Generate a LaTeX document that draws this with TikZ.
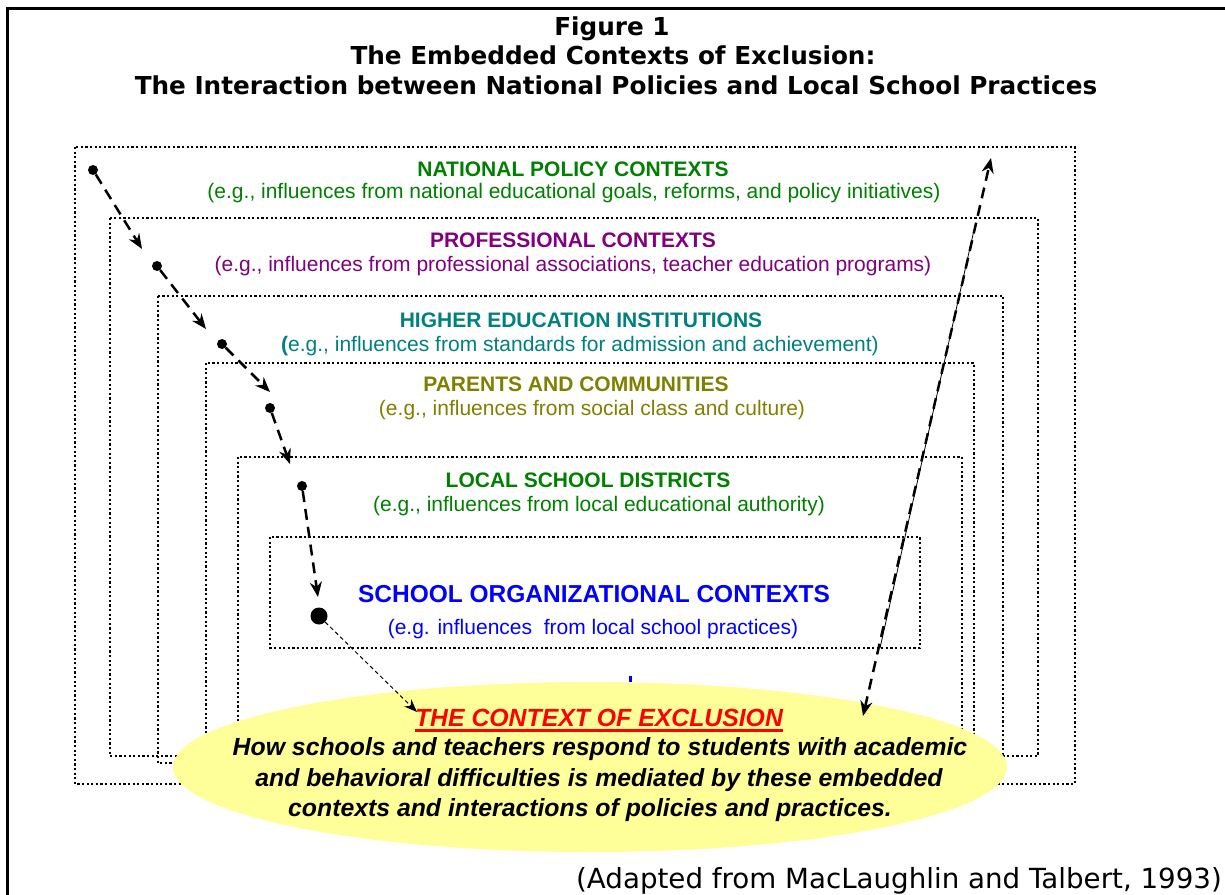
\documentclass[tikz,border=0pt]{standalone}
\usepackage{fontspec}
\setmainfont{Liberation Sans}
\newfontfamily\titlefont{DejaVu Sans}
\usetikzlibrary{arrows.meta,shapes.geometric}
\definecolor{natgreen}{RGB}{0,128,0}
\definecolor{profpurple}{RGB}{128,0,128}
\definecolor{hiteal}{RGB}{0,128,128}
\definecolor{parolive}{RGB}{128,128,0}
\definecolor{exyellow}{RGB}{255,255,153}
\tikzset{
  dotbox/.style={line width=2.2pt, dash pattern=on 2.2pt off 2.4pt},
  headtxt/.style={anchor=base, inner sep=0pt, font=\fontsize{21}{25}\selectfont\bfseries},
  subtxt/.style={anchor=base, inner sep=0pt, font=\fontsize{21}{25}\selectfont},
  titletxt/.style={anchor=base, inner sep=0pt, font=\titlefont\fontsize{24.7}{29}\selectfont\bfseries},
  dotnode/.style={circle, fill=black, minimum size=10pt, inner sep=0pt},
  dasharrow/.style={line width=2.5pt, dash pattern=on 11pt off 7pt, -{Stealth[length=15pt,width=12pt]}},
  thinarrow/.style={line width=1pt, dash pattern=on 4pt off 3pt, -{Stealth[length=13pt,width=10pt]}},
  ellbody/.style={anchor=base, inner sep=0pt, font=\fontsize{24.8}{28}\selectfont\bfseries\itshape}
}
\begin{document}
\begin{tikzpicture}[x=1pt,y=-1pt]
\useasboundingbox (0,0) rectangle (1225,894);
\fill[white] (0,0) rectangle (1225,894);
% frame
\draw[line width=3pt] (7,900) -- (7,8) -- (1240,8);
% titles
\node[titletxt] (t1) at (612,35) {Figure 1};
\node[titletxt] (t2) at (613,64) {The Embedded Contexts of Exclusion:};
\node[titletxt] (t3) at (616,94) {The Interaction between National Policies and Local School Practices};
% nested boxes
\draw[dotbox] (75,147) rectangle (1075,784);
\draw[dotbox] (110,218) rectangle (1038,756);
\draw[dotbox] (158,296) rectangle (1003,763);
\draw[dotbox] (206,363) rectangle (974,770);
\draw[dotbox] (238,457) rectangle (962,770);
\draw[dotbox] (270,537) rectangle (920,648);
% box texts
\node[headtxt, text=natgreen] (nh) at (573,176) {NATIONAL POLICY CONTEXTS};
\node[subtxt, text=natgreen] (ns) at (574,198) {(e.g., influences from national educational goals, reforms, and policy initiatives)};
\node[headtxt, text=profpurple] (ph) at (573,247) {PROFESSIONAL CONTEXTS};
\node[subtxt, text=profpurple] (ps) at (573,271) {(e.g., influences from professional associations, teacher education programs)};
\node[headtxt, text=hiteal] (hh) at (581,327) {HIGHER EDUCATION INSTITUTIONS};
\node[subtxt, text=hiteal] (hs) at (580,351) {\textbf{(}e.g., influences from standards for admission and achievement)};
\node[headtxt, text=parolive] (pah) at (576,391) {PARENTS AND COMMUNITIES};
\node[subtxt, text=parolive] (pas) at (592,415) {(e.g., influences from social class and culture)};
\node[headtxt, text=natgreen] (lh) at (588,487) {LOCAL SCHOOL DISTRICTS};
\node[subtxt, text=natgreen] (ls) at (599,511) {(e.g., influences from local educational authority)};
\node[anchor=base, inner sep=0pt, text=blue, font=\fontsize{24.5}{28}\selectfont\bfseries] (sh) at (594,602) {SCHOOL ORGANIZATIONAL CONTEXTS};
\node[subtxt, text=blue] (ss) at (593,634) {(e.g. influences\ \ from local school practices)};
% blue mark
\fill[blue] (629,676) rectangle (632,682);
% ellipse
\node[ellipse, fill=exyellow, minimum width=834pt, minimum height=170pt, inner sep=0pt] (ctx) at (590,767) {};
% ellipse texts
\node[ellbody, text=red] (eh) at (599,726) {THE CONTEXT OF EXCLUSION};
\draw[red, line width=3pt] ([yshift=-4.5pt]eh.base west) -- ([yshift=-4.5pt]eh.base east);
\node[ellbody] (e1) at (600,755) {How schools and teachers respond to students with academic};
\node[ellbody] (e2) at (599,786) {and behavioral difficulties is mediated by these embedded};
\node[ellbody] (e3) at (590,816) {contexts and interactions of policies and practices.};
% left chain
\node[dotnode] (d1) at (93,170) {};
\coordinate (a1) at (142,249);
\node[dotnode] (d2) at (157,266) {};
\coordinate (a2) at (206,329);
\node[dotnode] (d3) at (222,344) {};
\coordinate (a3) at (270,392);
\node[dotnode] (d4) at (270,408) {};
\coordinate (a4) at (290,464);
\node[dotnode] (d5) at (302,486) {};
\coordinate (a5) at (318,597);
\node[dotnode, minimum size=17pt] (d6) at (319,616) {};
\coordinate (a6) at (417,712);
\draw[dasharrow] (d1) -- (a1);
\draw[dasharrow] (d2) -- (a2);
\draw[dasharrow] (d3) -- (a3);
\draw[dasharrow] (d4) -- (a4);
\draw[dasharrow] (d5) -- (a5);
\draw[thinarrow] (d6) -- (a6);
% right double arrow
\coordinate (r1) at (863,716);
\coordinate (r2) at (991,158);
\draw[dasharrow, {Stealth[length=15pt,width=12pt]}-{Stealth[length=15pt,width=12pt]}] (r1) -- (r2);
\coordinate (s1) at (974,230);
\coordinate (s2) at (880,648);
\draw[line width=0.8pt] (s1) -- (s2);
% source
\node[anchor=base east, inner sep=0pt, font=\titlefont\fontsize{27.7}{32}\selectfont] (src) at (1222,888) {(Adapted from MacLaughlin and Talbert, 1993)};
\end{tikzpicture}
\end{document}
